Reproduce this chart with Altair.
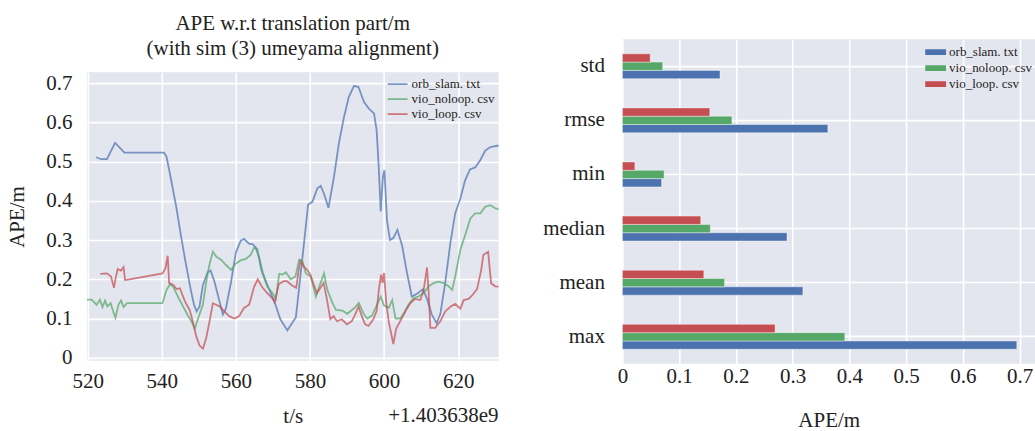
import altair as alt
import pandas as pd

# ---------------- data ----------------
SERIES = ["orb_slam. txt", "vio_noloop. csv", "vio_loop. csv"]
COLORS = ["#4c72b0", "#55a868", "#c44e52"]
BAR_ORDER = ["vio_loop. csv", "vio_noloop. csv", "orb_slam. txt"]

orb_t = [522.3, 523.6, 525.2, 527.4, 529.9, 540.6, 541.3, 542.5, 543.9, 545.2,
         546.4, 547.8, 548.7, 549.4, 550.2, 551.1, 552.4, 553.2, 554.2, 555.6,
         556.5, 557.3, 558.7, 560.0, 561.3, 562.2, 563.6, 564.4, 565.3, 566.3,
         567.3, 568.3, 569.4, 570.7, 572.0, 573.2, 573.9, 575.3, 576.2, 577.1,
         578.4, 579.5, 580.7, 582.0, 582.9, 583.8, 585.0, 586.5, 587.8, 589.2,
         590.5, 591.9, 593.1, 594.6, 595.9, 597.3, 598.0, 598.6, 599.1, 599.7,
         600.1, 600.8, 601.6, 602.5, 603.6, 604.9, 606.2, 607.5, 608.9, 610.5,
         611.6, 612.9, 614.2, 615.2, 616.5, 617.9, 619.2, 620.6, 621.9, 623.2,
         624.6, 626.0, 627.3, 628.7, 630.9]
orb_ape = [0.511, 0.506, 0.506, 0.548, 0.523, 0.523, 0.512, 0.455, 0.385, 0.310,
           0.245, 0.175, 0.135, 0.118, 0.131, 0.185, 0.218, 0.222, 0.195, 0.143,
           0.110, 0.125, 0.193, 0.268, 0.298, 0.303, 0.290, 0.290, 0.282, 0.255,
           0.215, 0.190, 0.165, 0.135, 0.098, 0.080, 0.070, 0.090, 0.103, 0.180,
           0.292, 0.390, 0.398, 0.432, 0.438, 0.418, 0.382, 0.462, 0.546, 0.614,
           0.665, 0.693, 0.690, 0.652, 0.635, 0.623, 0.580, 0.480, 0.373, 0.462,
           0.478, 0.350, 0.300, 0.305, 0.326, 0.285, 0.216, 0.156, 0.163, 0.175,
           0.150, 0.110, 0.088, 0.112, 0.190, 0.292, 0.368, 0.406, 0.453, 0.480,
           0.485, 0.504, 0.528, 0.537, 0.541]

noloop_t = [519.8, 521.1, 522.4, 523.3, 524.0, 524.7, 525.3, 526.2, 526.9, 527.5,
            528.3, 529.0, 529.7, 530.6, 540.2, 541.3, 542.3, 543.2, 544.5, 545.9,
            547.1, 548.0, 548.9, 549.8, 551.1, 552.0, 552.9, 553.8, 554.7, 556.0,
            557.3, 558.7, 560.0, 561.3, 562.7, 564.0, 564.9, 565.8, 566.8, 568.5,
            569.9, 570.8, 571.7, 572.6, 573.5, 574.8, 576.1, 577.1, 578.0, 578.9,
            580.2, 581.6, 582.5, 583.8, 584.7, 586.1, 587.0, 588.8, 590.1, 591.9,
            593.2, 594.6, 595.5, 596.8, 598.2, 599.1, 600.0, 601.3, 602.2, 603.1,
            604.4, 605.3, 606.6, 608.0, 609.3, 610.7, 612.0, 613.4, 614.7, 616.1,
            617.4, 618.4, 619.2, 620.6, 621.9, 623.3, 624.6, 626.0, 627.3, 628.7,
            630.0, 630.9]
noloop_ape = [0.148, 0.148, 0.135, 0.148, 0.129, 0.146, 0.131, 0.139, 0.118, 0.102,
              0.135, 0.146, 0.129, 0.139, 0.139, 0.173, 0.188, 0.179, 0.153, 0.128,
              0.107, 0.093, 0.074, 0.100, 0.135, 0.193, 0.239, 0.270, 0.258, 0.250,
              0.237, 0.224, 0.240, 0.248, 0.252, 0.262, 0.280, 0.278, 0.225, 0.181,
              0.165, 0.150, 0.214, 0.212, 0.218, 0.200, 0.207, 0.250, 0.246, 0.215,
              0.207, 0.156, 0.181, 0.215, 0.173, 0.139, 0.122, 0.120, 0.112, 0.126,
              0.140, 0.110, 0.100, 0.108, 0.137, 0.156, 0.133, 0.127, 0.147, 0.100,
              0.100, 0.113, 0.135, 0.152, 0.156, 0.165, 0.182, 0.190, 0.194, 0.190,
              0.182, 0.173, 0.207, 0.275, 0.313, 0.355, 0.368, 0.368, 0.385, 0.389,
              0.381, 0.378]

loop_t = [523.4, 525.2, 526.3, 527.1, 527.6, 528.1, 529.0, 529.7, 530.1, 531.3,
          540.2, 541.0, 541.6, 542.0, 543.1, 544.0, 544.9, 546.2, 547.6, 548.4,
          549.3, 550.2, 551.1, 552.0, 552.9, 553.8, 554.7, 555.6, 556.9, 558.2,
          559.6, 560.9, 562.2, 563.6, 564.9, 565.9, 567.1, 568.4, 569.8, 570.5,
          571.6, 572.9, 573.8, 575.2, 576.3, 577.0, 577.4, 578.3, 579.2, 580.1,
          581.0, 581.9, 582.8, 583.7, 584.6, 585.5, 586.4, 587.3, 588.6, 590.0,
          591.3, 592.2, 593.1, 594.0, 594.9, 595.8, 597.1, 598.0, 598.6, 599.2,
          599.6, 600.0, 600.6, 601.3, 602.1, 602.5, 603.3, 604.6, 606.0, 607.1,
          608.4, 609.8, 610.7, 611.6, 612.0, 612.5, 613.8, 615.2, 616.5, 617.9,
          619.2, 620.6, 621.5, 622.8, 623.7, 625.1, 626.2, 626.8, 628.1, 628.9,
          630.0, 630.9]
loop_ape = [0.214, 0.215, 0.207, 0.178, 0.205, 0.226, 0.222, 0.231, 0.198, 0.200,
            0.215, 0.228, 0.260, 0.190, 0.186, 0.175, 0.177, 0.145, 0.120, 0.092,
            0.055, 0.031, 0.023, 0.050, 0.093, 0.139, 0.135, 0.131, 0.118, 0.106,
            0.100, 0.106, 0.127, 0.135, 0.180, 0.200, 0.180, 0.165, 0.152, 0.142,
            0.188, 0.195, 0.195, 0.184, 0.178, 0.225, 0.246, 0.233, 0.225, 0.212,
            0.187, 0.165, 0.178, 0.191, 0.148, 0.098, 0.106, 0.093, 0.098, 0.085,
            0.093, 0.110, 0.131, 0.106, 0.085, 0.081, 0.098, 0.119, 0.174, 0.212,
            0.191, 0.216, 0.140, 0.090, 0.054, 0.035, 0.075, 0.097, 0.122, 0.139,
            0.150, 0.147, 0.173, 0.230, 0.173, 0.076, 0.076, 0.093, 0.118, 0.130,
            0.137, 0.125, 0.147, 0.150, 0.158, 0.175, 0.222, 0.262, 0.270, 0.190,
            0.182, 0.181]

stats = ["std", "rmse", "min", "median", "mean", "max"]
orb_stats = [0.172, 0.362, 0.069, 0.290, 0.318, 0.695]
noloop_stats = [0.071, 0.193, 0.0735, 0.155, 0.180, 0.392]
loop_stats = [0.049, 0.154, 0.022, 0.138, 0.1435, 0.269]

time_ticks = [520, 540, 560, 580, 600, 620]
ape_ticks = [0, 0.1, 0.2, 0.3, 0.4, 0.5, 0.6, 0.7]

title_lines = ["APE w.r.t translation part/m", "(with sim (3) umeyama alignment)"]
time_offset_text = "+1.403638e9"

# ---------------- frames ----------------
line_df = pd.concat([
    pd.DataFrame({"t": orb_t, "ape": orb_ape, "series": SERIES[0]}),
    pd.DataFrame({"t": noloop_t, "ape": noloop_ape, "series": SERIES[1]}),
    pd.DataFrame({"t": loop_t, "ape": loop_ape, "series": SERIES[2]}),
], ignore_index=True)

bar_df = pd.concat([
    pd.DataFrame({"stat": stats, "value": orb_stats, "series": SERIES[0]}),
    pd.DataFrame({"stat": stats, "value": noloop_stats, "series": SERIES[1]}),
    pd.DataFrame({"stat": stats, "value": loop_stats, "series": SERIES[2]}),
], ignore_index=True)

FONT = "Liberation Serif"
INK = "#222222"
BG = "#e4e6ef"

color_scale = alt.Scale(domain=SERIES, range=COLORS)

# ---------------- left: time series ----------------
title_holder = alt.Chart(pd.DataFrame({"z": [0]})).mark_point(opacity=0).properties(
    width=412, height=1,
    view=alt.ViewBackground(fill="transparent", strokeWidth=0),
    title=alt.TitleParams(text=title_lines, fontSize=21, lineHeight=25, font=FONT,
                          fontWeight="normal", color=INK, anchor="middle",
                          offset=-22),
)

lines = alt.Chart(line_df).mark_line(strokeWidth=1.8, opacity=0.72).encode(
    x=alt.X("t:Q",
            scale=alt.Scale(domain=[519.8, 630.9], nice=False, zero=False),
            axis=alt.Axis(values=time_ticks, title="t/s", labelPadding=10,
                          titlePadding=14, format="d")),
    y=alt.Y("ape:Q",
            scale=alt.Scale(domain=[-0.008, 0.728], nice=False, zero=False),
            axis=alt.Axis(values=ape_ticks, format="~g", title="APE/m",
                          labelPadding=15, titlePadding=18)),
    color=alt.Color("series:N", scale=color_scale,
                    legend=alt.Legend(title=None, orient="none", legendX=300, legendY=5,
                                      symbolType="stroke", symbolSize=400,
                                      symbolStrokeWidth=1.8, symbolOpacity=0.72,
                                      labelFontSize=13, labelOffset=3,
                                      clipHeight=14, rowPadding=1,
                                      padding=0)),
    order=alt.Order("t:Q"),
).properties(
    width=412, height=289,
    title=alt.TitleParams(text=time_offset_text, orient="bottom", anchor="end",
                          frame="group", offset=-22, fontSize=21, font=FONT,
                          fontWeight="normal", color=INK),
)

left = alt.vconcat(title_holder, lines, spacing=12).resolve_scale(
    x="independent", y="independent", color="independent")

# ---------------- right: statistics bars ----------------
bars = alt.Chart(bar_df).mark_bar(stroke="white", strokeWidth=0.6, strokeOpacity=0.7).encode(
    y=alt.Y("stat:N", sort=stats,
            scale=alt.Scale(paddingInner=0.54, paddingOuter=0.27),
            axis=alt.Axis(title=None, labelPadding=18, grid=True)),
    x=alt.X("value:Q", scale=alt.Scale(domain=[0, 0.727], nice=False),
            axis=alt.Axis(values=ape_ticks, format="~g", title="APE/m",
                          labelPadding=2, titlePadding=23)),
    yOffset=alt.YOffset("series:N", sort=BAR_ORDER,
                        scale=alt.Scale(paddingInner=0, paddingOuter=0)),
    color=alt.Color("series:N", scale=color_scale,
                    legend=alt.Legend(title=None, orient="none", legendX=303, legendY=6,
                                      symbolType="M-1,-0.28H1V0.28H-1Z", symbolSize=441,
                                      symbolStrokeWidth=0, symbolOpacity=1,
                                      labelFontSize=13, labelOffset=3,
                                      clipHeight=14, rowPadding=2,
                                      padding=0)),
).properties(width=413, height=325)

chart = alt.hconcat(left, bars, spacing=40).resolve_scale(
    x="independent", y="independent", color="independent"
).properties(
    padding={"left": 6, "top": 12, "right": 0, "bottom": 0},
).configure(
    font=FONT,
).configure_view(
    fill=BG, strokeWidth=0,
).configure_axis(
    labelFont=FONT, titleFont=FONT, labelFontSize=21, titleFontSize=21,
    labelColor=INK, titleColor=INK, titleFontWeight="normal",
    domain=False, ticks=False, tickSize=0, labelFlush=False, labelOverlap=False,
    gridColor="white", gridWidth=1.6, gridOpacity=1,
).configure_legend(
    labelFont=FONT, labelColor=INK,
).configure_title(
    font=FONT, fontWeight="normal", color=INK,
)

chart.save("out.html", embed_options={"renderer": "svg", "actions": False})
